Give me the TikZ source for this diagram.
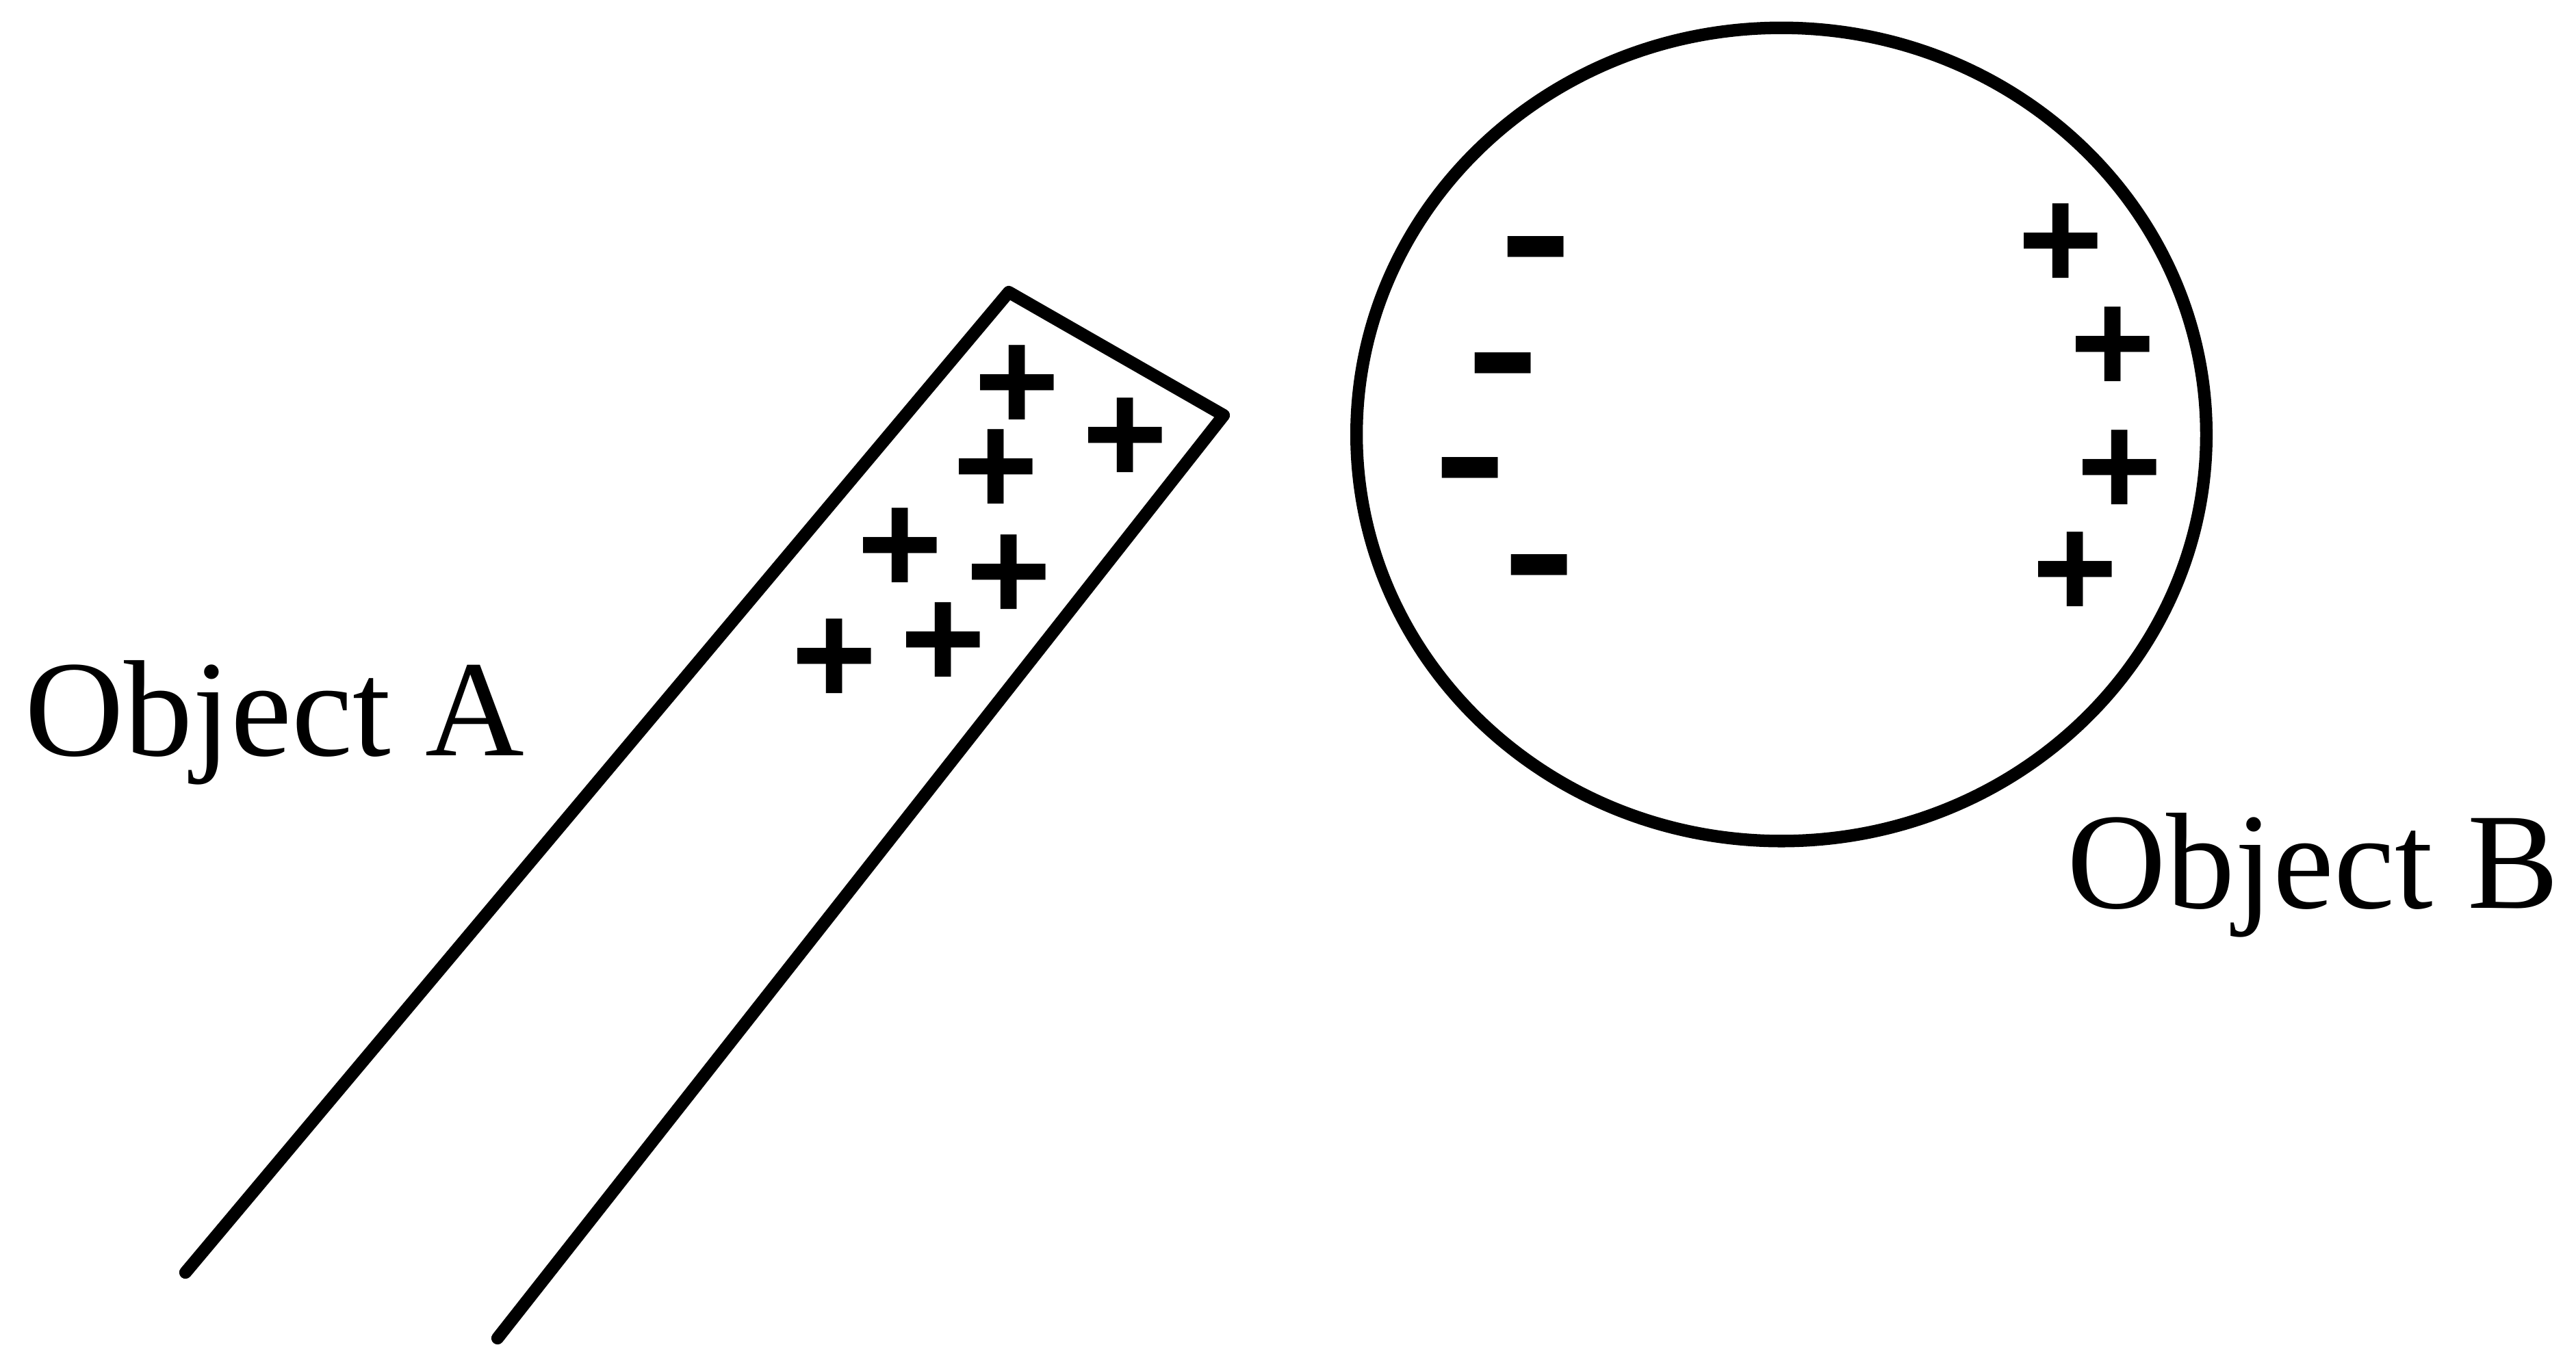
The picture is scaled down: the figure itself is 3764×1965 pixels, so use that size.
\documentclass[tikz,border=0pt]{standalone}
\usepackage{fontspec}
\setmainfont{Liberation Serif}
\newfontfamily\chargefont{Liberation Sans}
\usetikzlibrary{shapes.geometric}
\tikzset{
  outline/.style={line width=5.2pt, line join=round, line cap=round},
  label/.style={font=\fontsize{57}{68}\selectfont, inner sep=0pt, anchor=base west},
  charge/.style={font=\chargefont\bfseries\fontsize{61}{70}\selectfont, inner sep=0pt, anchor=center}
}
\newcommand{\pls}{\raisebox{-0.35em}[0.24em][0.24em]{+}}
\newcommand{\mns}{\raisebox{-0.4em}[0.07em][0.07em]{\scalebox{0.76}[1.3]{−}}}
\begin{document}
\begin{tikzpicture}[x=0.01cm,y=-0.01cm]
\useasboundingbox (0,0) rectangle (3764,1965);
% Object A: rod
\coordinate (rodtop) at (1474,427);
\coordinate (rodright) at (1788,607);
\coordinate (rodleftend) at (271,1860);
\coordinate (rodrightend) at (727,1956);
\draw[outline] (rodleftend) -- (rodtop) -- (rodright) -- (rodrightend);
% charges on rod
\node[charge] (a1) at (1486,555) {\pls};
\node[charge] (a2) at (1644,632) {\pls};
\node[charge] (a3) at (1455,678) {\pls};
\node[charge] (a4) at (1315,793) {\pls};
\node[charge] (a5) at (1474,832) {\pls};
\node[charge] (a6) at (1219,955) {\pls};
\node[charge] (a7) at (1378,931) {\pls};
% Object B: sphere
\node[draw, outline, ellipse, minimum width=12.41cm, minimum height=11.88cm, inner sep=0pt] (sphere) at (2603,635) {};
\node[charge] (m1) at (2244,368) {\mns};
\node[charge] (m2) at (2196,538) {\mns};
\node[charge] (m3) at (2148,691) {\mns};
\node[charge] (m4) at (2249,833) {\mns};
\node[charge] (p1) at (3011,348) {\pls};
\node[charge] (p2) at (3087,499) {\pls};
\node[charge] (p3) at (3097,679) {\pls};
\node[charge] (p4) at (3032,828) {\pls};
% labels
\node[label] (labA) at (36,1104) {Object A};
\node[label] (labB) at (3020,1327) {Object B};
\end{tikzpicture}
\end{document}
